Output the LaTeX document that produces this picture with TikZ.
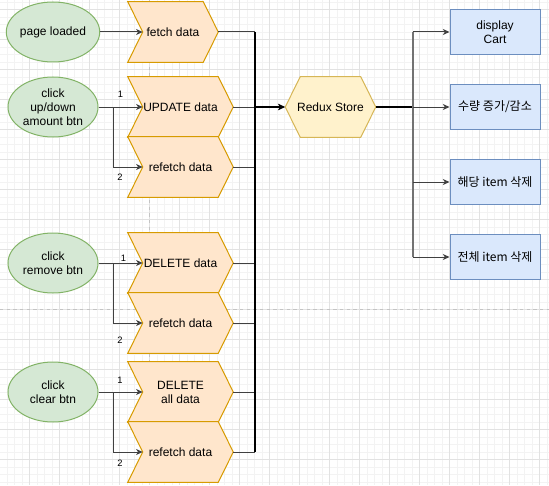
\documentclass[tikz,border=0pt]{standalone}
\usepackage{fontspec}
\setmainfont{Liberation Sans}
\newfontfamily\kor{Noto Sans CJK KR}
\usetikzlibrary{shapes.geometric,arrows.meta}
\definecolor{evtfill}{HTML}{D5E8D4}
\definecolor{evtdraw}{HTML}{82B366}
\definecolor{stepfill}{HTML}{FFE6CC}
\definecolor{stepdraw}{HTML}{D79B00}
\definecolor{storefill}{HTML}{FFF2CC}
\definecolor{storedraw}{HTML}{D6B656}
\definecolor{boxfill}{HTML}{DAE8FC}
\definecolor{boxdraw}{HTML}{6C8EBF}
\definecolor{gridmajor}{HTML}{E2E2E2}
\definecolor{gridminor}{HTML}{F3F3F3}
\definecolor{pagebreak}{HTML}{C4C4C4}
\pgfdeclarelayer{canvas}
\pgfdeclarelayer{back}
\pgfsetlayers{canvas,back,main}

\begin{document}
\begin{tikzpicture}[x=0.75pt, y=-0.75pt,
    font=\fontsize{9}{10.5}\selectfont,
    event/.style={ellipse, draw=evtdraw, fill=evtfill, line width=0.75pt,
        minimum width=67.5pt, minimum height=45pt, inner sep=0pt, align=center},
    stepbox/.style={rectangle, minimum width=78.75pt, minimum height=45pt,
        inner sep=0pt, align=center},
    stepline/.style={draw=stepdraw, fill=stepfill, line width=0.75pt},
    storeline/.style={draw=storedraw, fill=storefill, line width=0.75pt},
    cartbox/.style={rectangle, draw=boxdraw, fill=boxfill, line width=0.75pt,
        minimum width=67.5pt, minimum height=33.75pt, inner sep=0pt, align=center},
    numlbl/.style={font=\fontsize{7}{8}\selectfont, inner sep=0pt},
    conn/.style={draw=black!75, line width=0.75pt},
    arr/.style={conn, -{Stealth[length=5pt, width=4.5pt, inset=1.5pt]}},
    bus/.style={draw=black, line width=1.1pt},
    busarr/.style={bus, -{Stealth[length=5.5pt, width=5pt, inset=1.5pt]}},
    fanout/.style={draw=black!55, line width=1.1pt}]

    \useasboundingbox (0,0) rectangle (549,485);

    % canvas grid and page breaks
    \begin{pgfonlayer}{canvas}
        \fill[white] (0,0) rectangle (549,485);
        \foreach \x in {-0.5,7,...,549} \draw[gridminor, line width=0.5pt] (\x,0) -- (\x,485);
        \foreach \y in {2,9.5,...,485} \draw[gridminor, line width=0.5pt] (0,\y) -- (549,\y);
        \foreach \x in {-0.5,29.5,...,549} \draw[gridmajor, line width=0.6pt] (\x,0) -- (\x,485);
        \foreach \y in {9.5,39.5,...,485} \draw[gridmajor, line width=0.6pt] (0,\y) -- (549,\y);
        \draw[pagebreak, line width=0.6pt, dash pattern=on 2.5pt off 2.5pt] (149.5,0) -- (149.5,485);
        \draw[pagebreak, line width=0.6pt, dash pattern=on 2.5pt off 2.5pt] (0,309.5) -- (549,309.5);
    \end{pgfonlayer}

    % events
    \node[event] (loaded) at (53,32)  {page loaded};
    \node[event] (updown) at (53,107) {click\\up/down\\amount btn};
    \node[event] (remove) at (53,263) {click\\remove btn};
    \node[event] (clear)  at (53,392) {click\\clear btn};

    % requests
    \node[stepbox, minimum width=67.5pt] (fetch) at (173,32) {fetch data};
    \node[stepbox] (update)    at (180.5,107) {UPDATE data};
    \node[stepbox] (refetchA)  at (180.5,167) {refetch data};
    \node[stepbox] (delete)    at (180.5,263) {DELETE data};
    \node[stepbox] (refetchB)  at (180.5,323) {refetch data};
    \node[stepbox] (deleteall) at (180.5,392) {DELETE\\all data};
    \node[stepbox] (refetchC)  at (180.5,452) {refetch data};

    % store
    \node[stepbox, minimum width=67.5pt] (redux) at (330.5,107) {Redux Store};

    % views
    \node[cartbox] (cartbox) at (495,32)  {display\\Cart};
    \node[cartbox] (qtybox)  at (495,107) {\kor 수량 증가/감소};
    \node[cartbox] (rmbox)   at (495,182) {\kor 해당 item 삭제};
    \node[cartbox] (clrbox)  at (495,257) {\kor 전체 item 삭제};

    \begin{pgfonlayer}{back}
        \foreach \n in {fetch,update,refetchA,delete,refetchB,deleteall,refetchC}
            \draw[stepline] (\n.north west) -- ([xshift=-11.25pt]\n.north east) -- (\n.east)
                -- ([xshift=-11.25pt]\n.south east) -- (\n.south west) -- ([xshift=11.25pt]\n.west) -- cycle;
        \draw[storeline] ([xshift=11.25pt]redux.north west) -- ([xshift=-11.25pt]redux.north east) -- (redux.east)
            -- ([xshift=-11.25pt]redux.south east) -- ([xshift=11.25pt]redux.south west) -- (redux.west) -- cycle;
    \end{pgfonlayer}

    % events to requests
    \draw[arr] (loaded.east) -- ([xshift=11.25pt]fetch.west);
    \draw[arr] (updown.east) -- ([xshift=11.25pt]update.west);
    \draw[arr] (updown.east) -- ++(15,0) |- ([xshift=11.25pt]refetchA.west);
    \draw[arr] (remove.east) -- ([xshift=11.25pt]delete.west);
    \draw[arr] (remove.east) -- ++(15,0) |- ([xshift=11.25pt]refetchB.west);
    \draw[arr] (clear.east) -- ([xshift=11.25pt]deleteall.west);
    \draw[arr] (clear.east) -- ++(15,0) |- ([xshift=11.25pt]refetchC.west);

    \node[numlbl] (oneA) at (120.5,94.5) {1};
    \node[numlbl] (twoA) at (120,177.5) {2};
    \node[numlbl] (oneB) at (123.5,258.5) {1};
    \node[numlbl] (twoB) at (120,340) {2};
    \node[numlbl] (oneC) at (120,380) {1};
    \node[numlbl] (twoC) at (120,463) {2};

    % requests to store
    \coordinate (join) at (255,107);
    \foreach \n in {fetch,update,refetchA,delete,refetchB,deleteall,refetchC}
        \draw[conn] (\n.east) -- (\n.east -| join);
    \draw[bus] (fetch.east -| join) -- (refetchC.east -| join);
    \draw[busarr] (join) -- (redux.west);

    % store to views
    \coordinate (fork) at (413,107);
    \draw[bus] (redux.east) -- (fork);
    \draw[fanout] (cartbox.west -| fork) -- (clrbox.west -| fork);
    \foreach \b in {cartbox,qtybox,rmbox,clrbox}
        \draw[arr] (\b.west -| fork) -- (\b.west);
\end{tikzpicture}
\end{document}
